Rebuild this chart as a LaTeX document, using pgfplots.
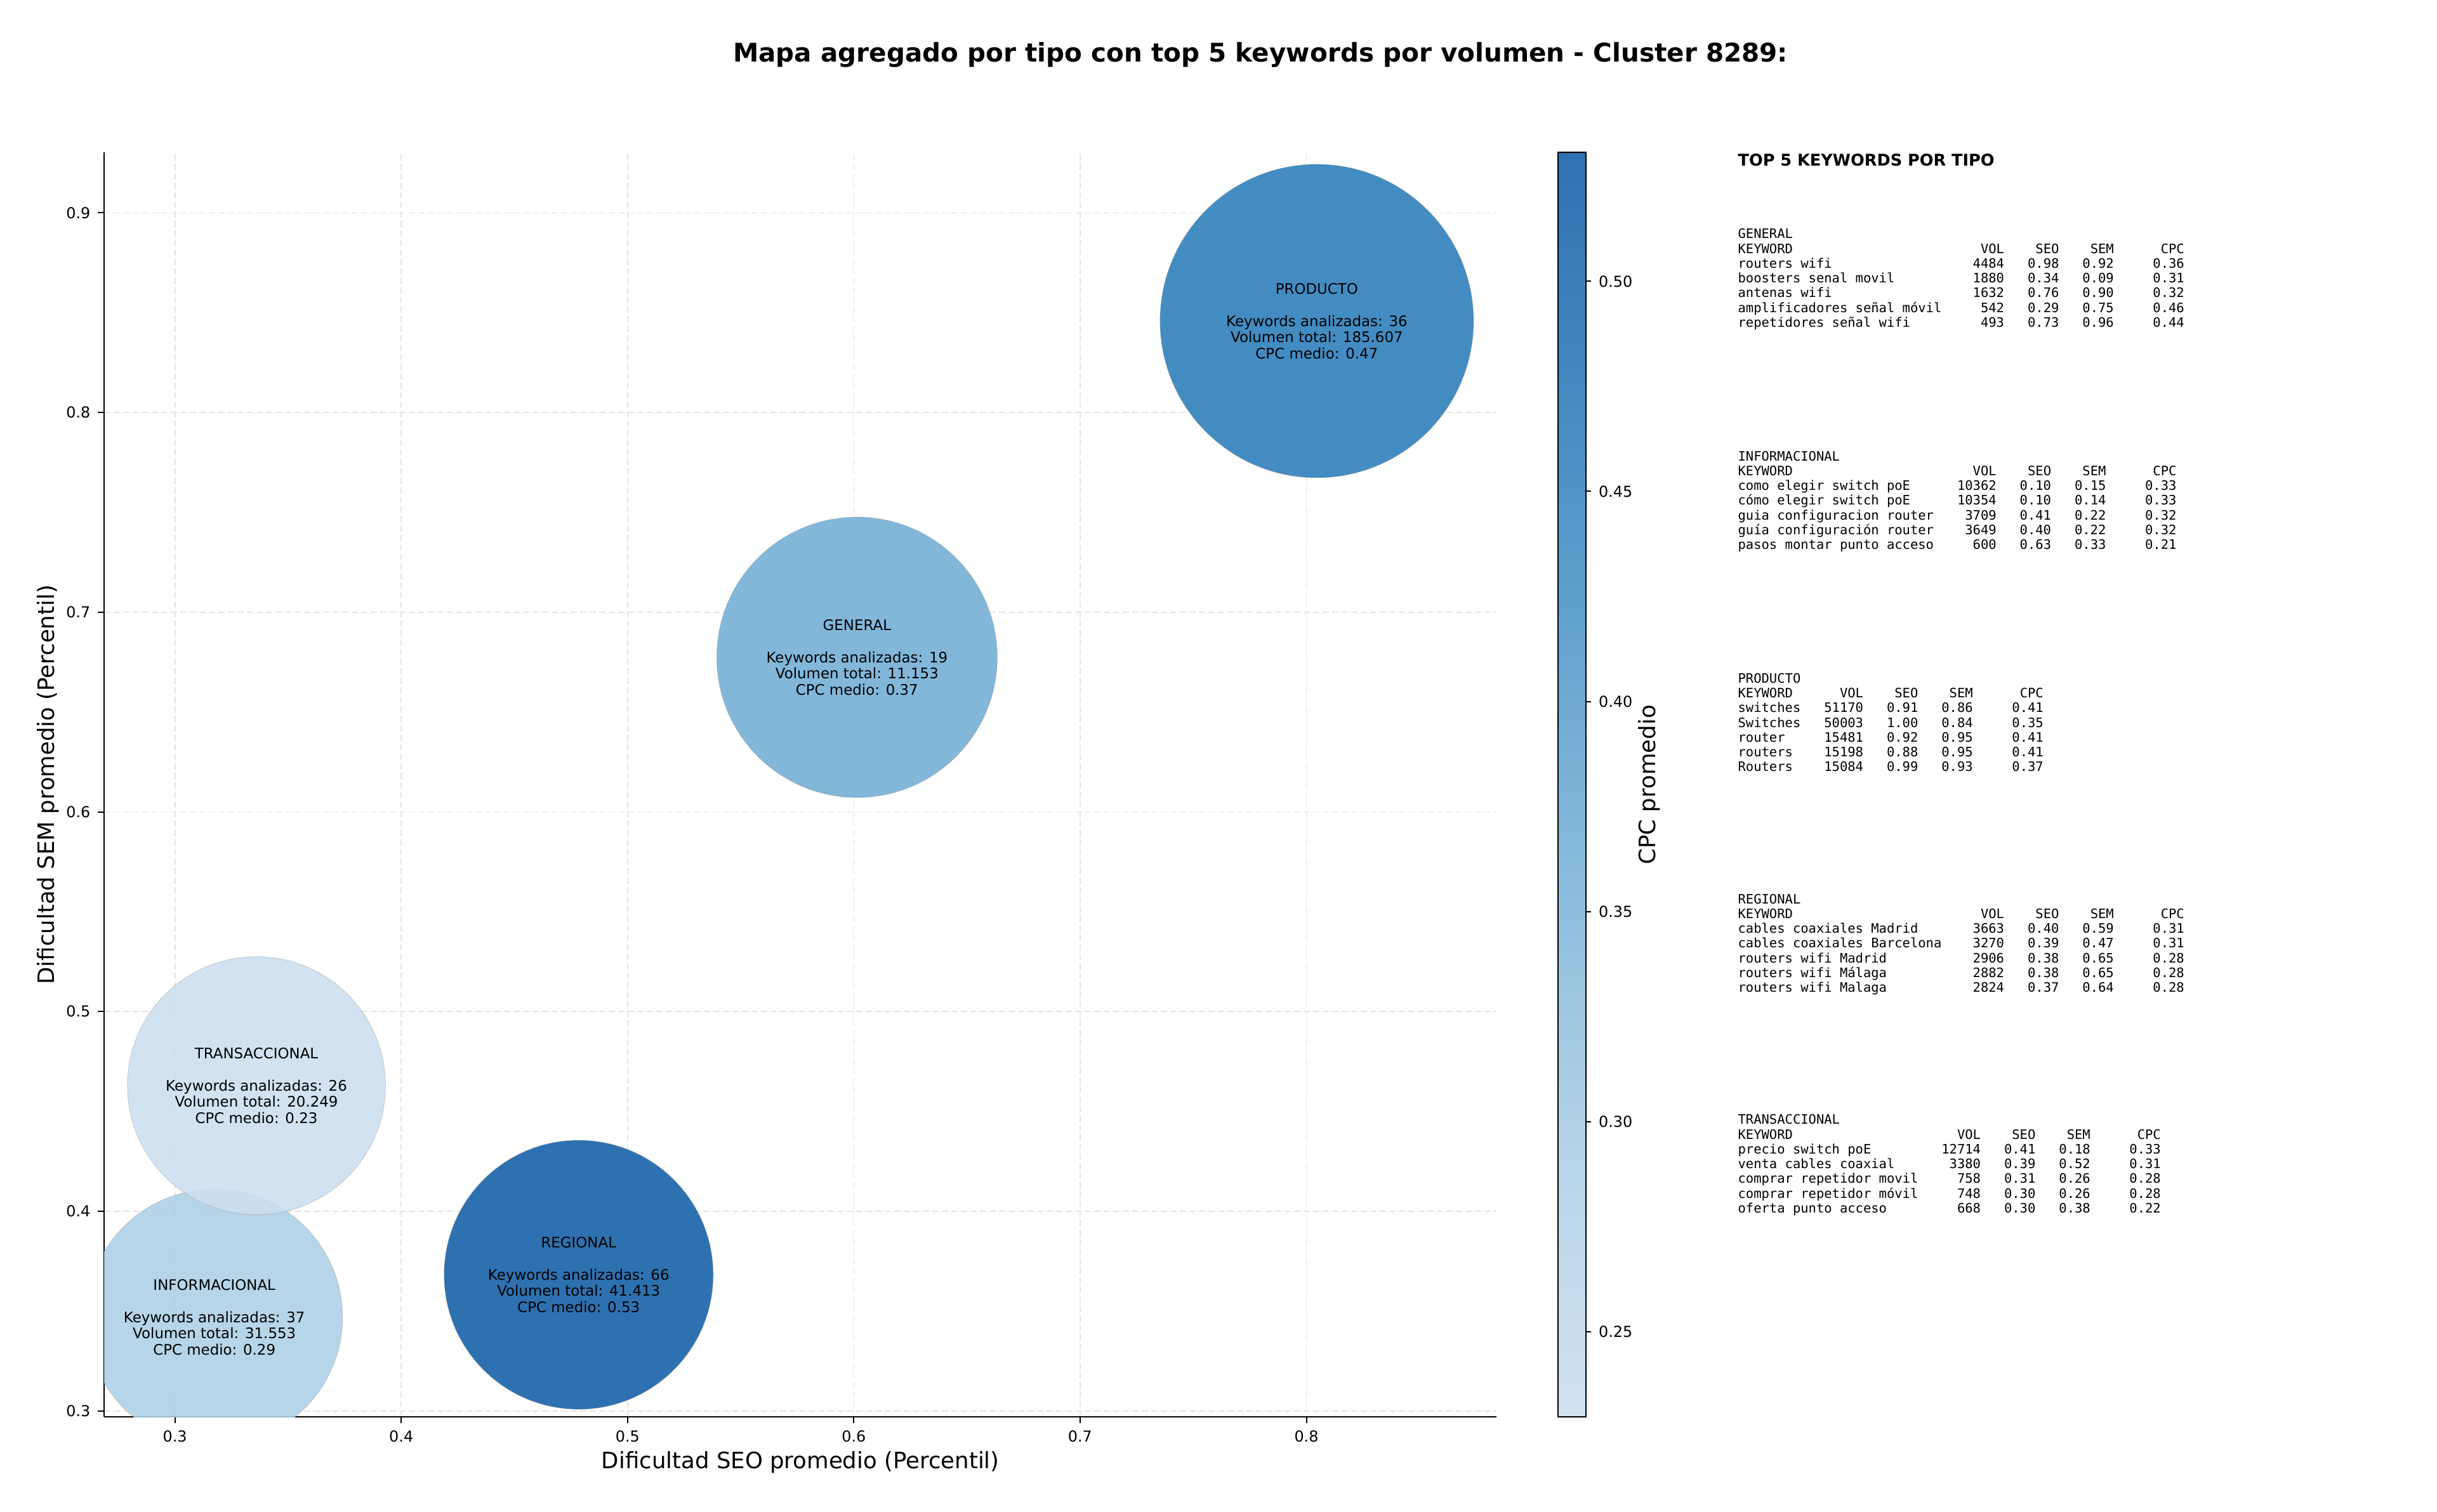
\documentclass[border=0pt]{standalone}
\usepackage{fontspec}
\setmainfont{DejaVu Sans}
\setmonofont{DejaVu Sans Mono}
\usepackage{pgfplots}
\usepackage{pgfplotstable}
\pgfplotsset{compat=1.18}

\definecolor{gridgray}{RGB}{228,228,228}

\pgfplotsset{
  colormap={disp}{rgb255(0cm)=(210,226,241); rgb255(6.03cm)=(182,213,232); rgb255(14.03cm)=(130,183,218); rgb255(24.03cm)=(68,140,194); rgb255(30.10cm)=(46,114,176)},
  colormap={under}{rgb255(0cm)=(205,223,240); rgb255(6.03cm)=(174,208,229); rgb255(14.03cm)=(116,175,214); rgb255(24.03cm)=(47,127,187); rgb255(30.10cm)=(23,98,167)},
}

% tipo: GENERAL, INFORMACIONAL, PRODUCTO, REGIONAL, TRANSACCIONAL
\pgfplotstableread{
x      y      cpc     r
0.6014 0.6774 0.37    66.3
0.3174 0.3469 0.29    60.6
0.8046 0.8458 0.47    74.1
0.4784 0.3682 0.5307  63.6
0.3360 0.4629 0.2297  61.0
}\bubbles

\def\s{0.73469}
\newcommand\kw[6]{\makebox[\dimexpr0.60205em*#1\relax][l]{#2}\makebox[\dimexpr0.60205em*8\relax][r]{#3}\makebox[\dimexpr0.60205em*7\relax][r]{#4}\makebox[\dimexpr0.60205em*7\relax][r]{#5}\makebox[\dimexpr0.60205em*9\relax][r]{#6}}

\begin{document}
\begin{tikzpicture}
\useasboundingbox (0,0) rectangle ({1568*\s bp},{-973*\s bp});

\node[anchor=base, inner sep=0, font=\fontsize{12.2}{14}\selectfont\bfseries] at ({811*\s bp},{-40*\s bp})
  {Mapa agregado por tipo con top 5 keywords por volumen - Cluster 8289:};

\begin{axis}[
  at={({67*\s bp},{-912*\s bp})}, anchor=south west,
  scale only axis, width=658.28bp, height=598.04bp,
  xmin=0.2687, xmax=0.8841, ymin=0.2969, ymax=0.9303,
  axis lines*=left,
  axis line style={line width=0.6bp, black},
  xtick={0.3,0.4,0.5,0.6,0.7,0.8},
  ytick={0.3,0.4,0.5,0.6,0.7,0.8,0.9},
  tick align=outside, major tick length=3bp,
  tick style={line width=0.6bp, black},
  grid=major,
  major grid style={line width=0.5bp, draw=gridgray, dash pattern=on 3bp off 1.5bp},
  tick label style={font=\fontsize{7.2}{8}\selectfont},
  /pgf/number format/assume math mode=true,
  xticklabel style={/pgf/number format/.cd, fixed, fixed zerofill, precision=1},
  yticklabel style={/pgf/number format/.cd, fixed, fixed zerofill, precision=1},
  xlabel={Dificultad SEO promedio (Percentil)},
  ylabel={Dificultad SEM promedio (Percentil)},
  label style={font=\fontsize{10.7}{12}\selectfont},
  xlabel style={at={(axis description cs:0.5,-0.0356)}, anchor=center},
  ylabel style={at={(axis description cs:-0.0402,0.5)}, anchor=center},
  colormap name=under,
  colorbar,
  colorbar style={
    colormap name=disp,
    at={(parent axis.north east)}, anchor=north west, xshift=20.6bp,
    width=13.1bp,
    grid=none,
    axis line style={line width=0.6bp, black},
    ytick={0.25,0.30,0.35,0.40,0.45,0.50},
    tick align=outside, major tick length=2.5bp,
    tick style={line width=0.6bp, black},
    ytick pos=right, yticklabel pos=right,
    yticklabel style={font=\fontsize{7.2}{8}\selectfont, /pgf/number format/.cd, fixed, fixed zerofill, precision=2, assume math mode=true},
    ylabel={CPC promedio},
    ylabel style={at={(axis description cs:3.29,0.5)}, anchor=center, font=\fontsize{10.7}{12}\selectfont},
  },
  clip marker paths=true,
]
\addplot[
  scatter, only marks, mark=*,
  point meta=explicit,
  scatter/use mapped color={draw=black!40, fill=mapped color, line width=0.3bp},
  visualization depends on={\thisrow{r} \as \rad},
  scatter/@pre marker code/.append style={/tikz/mark size=\rad bp},
  mark options={fill opacity=0.9, draw opacity=0.4},
] table[x=x, y=y, meta=cpc] {\bubbles};

\begin{scope}[every node/.style={align=center, inner sep=0, font=\fontsize{6.9}{7.66}\selectfont}]
\node at (axis cs:0.6014,0.6774) {GENERAL\\[7.66bp]Keywords analizadas: 19\\Volumen total: 11.153\\CPC medio: 0.37};
\node at (axis cs:0.3174,0.3469) {INFORMACIONAL\\[7.66bp]Keywords analizadas: 37\\Volumen total: 31.553\\CPC medio: 0.29};
\node at (axis cs:0.8046,0.8458) {PRODUCTO\\[7.66bp]Keywords analizadas: 36\\Volumen total: 185.607\\CPC medio: 0.47};
\node at (axis cs:0.4784,0.3682) {REGIONAL\\[7.66bp]Keywords analizadas: 66\\Volumen total: 41.413\\CPC medio: 0.53};
\node at (axis cs:0.3360,0.4629) {TRANSACCIONAL\\[7.66bp]Keywords analizadas: 26\\Volumen total: 20.249\\CPC medio: 0.23};
\end{scope}
\end{axis}

\node[anchor=base west, inner sep=0, font=\fontsize{7.7}{9}\selectfont\bfseries] at ({1118*\s bp},{-106.8*\s bp}) {TOP 5 KEYWORDS POR TIPO};

\begin{scope}[every node/.style={anchor=north west, inner sep=0, align=left, font=\fontsize{6.17}{7.0}\selectfont\ttfamily}]
\node at ({1118*\s bp},{-147*\s bp}) {GENERAL\\
\kw{26}{KEYWORD}{VOL}{SEO}{SEM}{CPC}\\
\kw{26}{routers wifi}{4484}{0.98}{0.92}{0.36}\\
\kw{26}{boosters senal movil}{1880}{0.34}{0.09}{0.31}\\
\kw{26}{antenas wifi}{1632}{0.76}{0.90}{0.32}\\
\kw{26}{amplificadores señal móvil}{542}{0.29}{0.75}{0.46}\\
\kw{26}{repetidores señal wifi}{493}{0.73}{0.96}{0.44}};

\node at ({1118*\s bp},{-290*\s bp}) {INFORMACIONAL\\
\kw{25}{KEYWORD}{VOL}{SEO}{SEM}{CPC}\\
\kw{25}{como elegir switch poE}{10362}{0.10}{0.15}{0.33}\\
\kw{25}{cómo elegir switch poE}{10354}{0.10}{0.14}{0.33}\\
\kw{25}{guia configuracion router}{3709}{0.41}{0.22}{0.32}\\
\kw{25}{guía configuración router}{3649}{0.40}{0.22}{0.32}\\
\kw{25}{pasos montar punto acceso}{600}{0.63}{0.33}{0.21}};

\node at ({1118*\s bp},{-433*\s bp}) {PRODUCTO\\
\kw{8}{KEYWORD}{VOL}{SEO}{SEM}{CPC}\\
\kw{8}{switches}{51170}{0.91}{0.86}{0.41}\\
\kw{8}{Switches}{50003}{1.00}{0.84}{0.35}\\
\kw{8}{router}{15481}{0.92}{0.95}{0.41}\\
\kw{8}{routers}{15198}{0.88}{0.95}{0.41}\\
\kw{8}{Routers}{15084}{0.99}{0.93}{0.37}};

\node at ({1118*\s bp},{-575*\s bp}) {REGIONAL\\
\kw{26}{KEYWORD}{VOL}{SEO}{SEM}{CPC}\\
\kw{26}{cables coaxiales Madrid}{3663}{0.40}{0.59}{0.31}\\
\kw{26}{cables coaxiales Barcelona}{3270}{0.39}{0.47}{0.31}\\
\kw{26}{routers wifi Madrid}{2906}{0.38}{0.65}{0.28}\\
\kw{26}{routers wifi Málaga}{2882}{0.38}{0.65}{0.28}\\
\kw{26}{routers wifi Malaga}{2824}{0.37}{0.64}{0.28}};

\node at ({1118*\s bp},{-717*\s bp}) {TRANSACCIONAL\\
\kw{23}{KEYWORD}{VOL}{SEO}{SEM}{CPC}\\
\kw{23}{precio switch poE}{12714}{0.41}{0.18}{0.33}\\
\kw{23}{venta cables coaxial}{3380}{0.39}{0.52}{0.31}\\
\kw{23}{comprar repetidor movil}{758}{0.31}{0.26}{0.28}\\
\kw{23}{comprar repetidor móvil}{748}{0.30}{0.26}{0.28}\\
\kw{23}{oferta punto acceso}{668}{0.30}{0.38}{0.22}};
\end{scope}
\end{tikzpicture}
\end{document}
